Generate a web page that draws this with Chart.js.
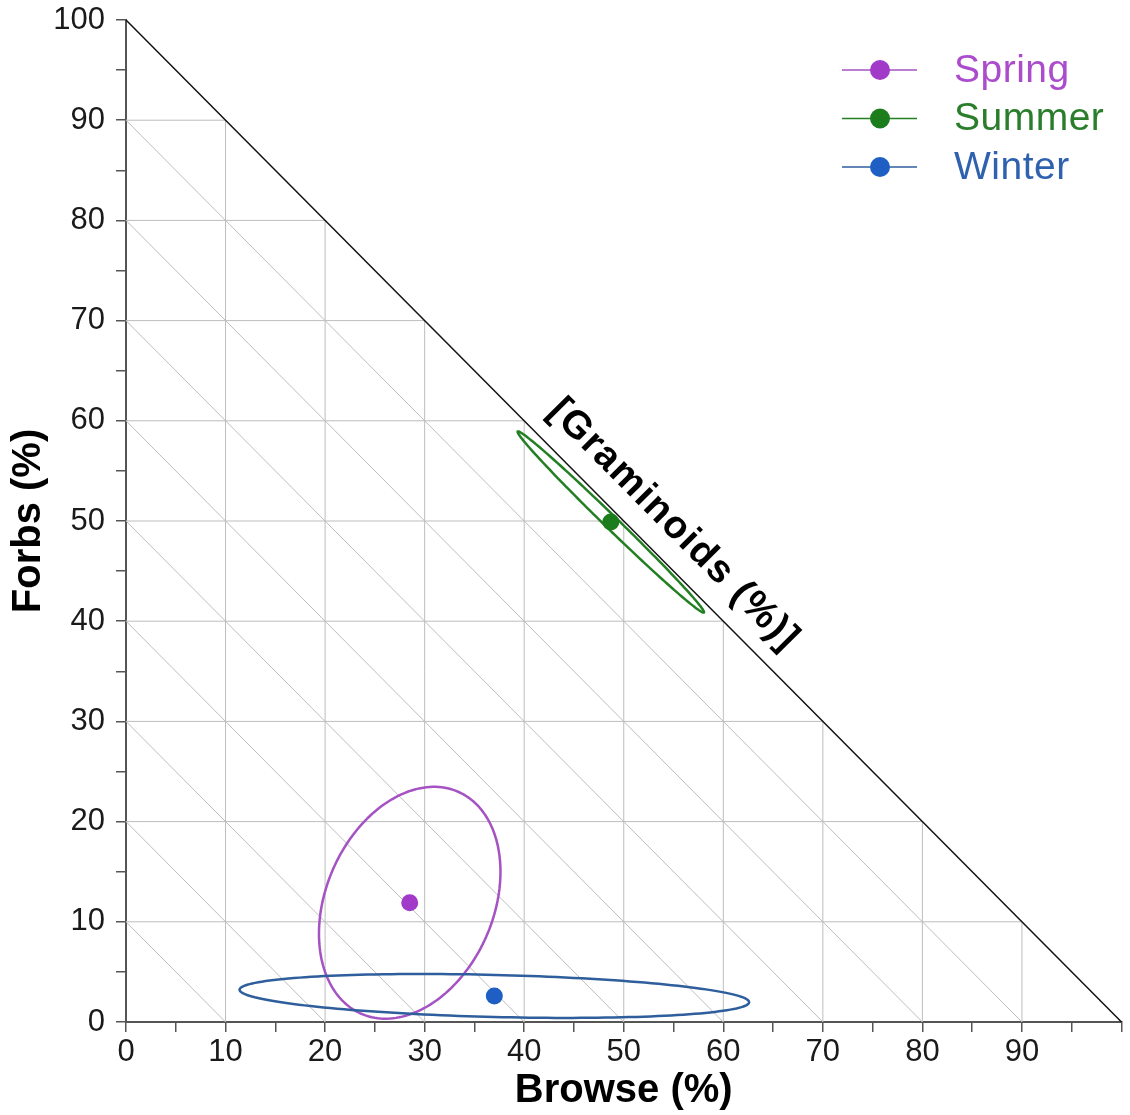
<!DOCTYPE html>
<html>
<head>
<meta charset="utf-8">
<title>Diet composition by season</title>
<script src="https://cdn.jsdelivr.net/npm/chart.js@4.4.1/dist/chart.umd.min.js"></script>
<style>
    html, body { margin: 0; padding: 0; background: #ffffff; }
    #wrap { width: 1130px; height: 1115px; }
</style>
</head>
<body>
<div id="wrap"><canvas id="ternChart" width="1130" height="1115"></canvas></div>
<script>
// Season means (Browse %, Forbs %) and their confidence ellipses
const seasons = ['Spring', 'Summer', 'Winter'];
const browse = [28.5, 48.7, 37.0];
const forbs = [11.9, 49.9, 2.6];
const ellipseMajor = [12.1, 13.0, 25.6];   // semi-axis, % units
const ellipseMinor = [8.4, 0.65, 2.1];
const ellipseAngle = [66, -44, -1.4];      // degrees from the Browse axis

const dotColors = ['#a23ac9', '#1c7d1c', '#1f5fc4'];
const ringColors = ['#a552c2', '#237f23', '#2e5e9c'];
const textColors = ['#ab4ccc', '#2a7d2a', '#2f62ae'];

const gridSteps = [10, 20, 30, 40, 50, 60, 70, 80, 90];
const axisMax = 100;
const hypotenuseLabel = '[Graminoids (%)]';
const labelAt = [55.0, 49.6];

const FONT = "'Liberation Sans', Arial, sans-serif";

// Triangle grid: verticals, horizontals and lines of equal graminoid share
const triangleGrid = {
    id: 'triangleGrid',
    beforeDatasetsDraw(chart) {
        const ctx = chart.ctx;
        const xs = chart.scales.x, ys = chart.scales.y;
        const px = v => xs.getPixelForValue(v);
        const py = v => ys.getPixelForValue(v);
        ctx.save();
        ctx.strokeStyle = '#bdbdbd';
        ctx.lineWidth = 1;
        gridSteps.forEach(v => {
            ctx.beginPath();
            ctx.moveTo(px(v), py(0));
            ctx.lineTo(px(v), py(axisMax - v));
            ctx.moveTo(px(0), py(v));
            ctx.lineTo(px(axisMax - v), py(v));
            ctx.moveTo(px(0), py(v));
            ctx.lineTo(px(v), py(0));
            ctx.stroke();
        });
        ctx.strokeStyle = '#111111';
        ctx.lineWidth = 1.5;
        ctx.beginPath();
        ctx.moveTo(px(0), py(axisMax));
        ctx.lineTo(px(axisMax), py(0));
        ctx.stroke();

        // label along the hypotenuse
        const ang = Math.atan2(py(0) - py(axisMax), px(axisMax) - px(0));
        ctx.translate(px(labelAt[0]), py(labelAt[1]));
        ctx.rotate(ang);
        ctx.font = 'bold 39px ' + FONT;
        ctx.letterSpacing = '1.5px';
        ctx.fillStyle = '#000000';
        ctx.textAlign = 'center';
        ctx.textBaseline = 'middle';
        ctx.fillText(hypotenuseLabel, 0, 0);
        ctx.restore();
    }
};

// Confidence ellipses around each seasonal mean
const seasonEllipses = {
    id: 'seasonEllipses',
    beforeDatasetsDraw(chart) {
        const ctx = chart.ctx;
        const xs = chart.scales.x, ys = chart.scales.y;
        ctx.save();
        ctx.lineWidth = 2.5;
        seasons.forEach((s, i) => {
            const th = ellipseAngle[i] * Math.PI / 180;
            ctx.strokeStyle = ringColors[i];
            ctx.beginPath();
            for (let k = 0; k <= 180; k++) {
                const t = k / 180 * 2 * Math.PI;
                const dx = ellipseMajor[i] * Math.cos(t), dy = ellipseMinor[i] * Math.sin(t);
                const x = browse[i] + dx * Math.cos(th) - dy * Math.sin(th);
                const y = forbs[i] + dx * Math.sin(th) + dy * Math.cos(th);
                const X = xs.getPixelForValue(x), Y = ys.getPixelForValue(y);
                if (k === 0) ctx.moveTo(X, Y); else ctx.lineTo(X, Y);
            }
            ctx.closePath();
            ctx.stroke();
        });
        ctx.restore();
    }
};

// Legend in the upper right corner: line + dot, coloured name
const cornerLegend = {
    id: 'cornerLegend',
    afterDraw(chart) {
        const ctx = chart.ctx;
        ctx.save();
        seasons.forEach((s, i) => {
            const y = 70 + i * 48.5;
            ctx.strokeStyle = ringColors[i];
            ctx.lineWidth = 1.5;
            ctx.beginPath();
            ctx.moveTo(842, y);
            ctx.lineTo(917, y);
            ctx.stroke();
            ctx.fillStyle = dotColors[i];
            ctx.beginPath();
            ctx.arc(880, y, 10, 0, 2 * Math.PI);
            ctx.fill();
            ctx.font = '39px ' + FONT;
            ctx.letterSpacing = '0.5px';
            ctx.fillStyle = textColors[i];
            ctx.textAlign = 'left';
            ctx.textBaseline = 'middle';
            ctx.fillText(s, 954, y + 1);
        });
        ctx.restore();
    }
};

const datasets = seasons.map((s, i) => ({
    label: s,
    data: [{ x: browse[i], y: forbs[i] }],
    backgroundColor: dotColors[i],
    borderWidth: 0,
    pointRadius: 8.5
}));

function axisOptions(titleText, hideTop) {
    return {
        type: 'linear',
        min: 0,
        max: axisMax,
        grid: { drawOnChartArea: false, drawTicks: true, tickLength: 10, color: '#555555', lineWidth: 1.5 },
        border: { display: true, color: '#555555', width: 2 },
        ticks: {
            stepSize: 5,
            autoSkip: false,
            maxRotation: 0,
            color: '#1a1a1a',
            font: { family: FONT, size: 31 },
            callback: function(v) {
                if (v % 10 !== 0) return '';
                if (hideTop && v === axisMax) return '';
                return v;
            }
        },
        title: {
            display: true,
            text: titleText,
            color: '#000000',
            font: { family: FONT, size: 40, weight: 'bold' }
        }
    };
}

const xAxis = axisOptions('Browse (%)', true);
xAxis.ticks.padding = 2;
xAxis.title.padding = { top: 0, bottom: 0 };
xAxis.afterFit = function(scale) {
    scale.height = 93;
    scale.paddingLeft = 0;
    scale.paddingRight = 0;
};

const yAxis = axisOptions('Forbs (%)', false);
yAxis.ticks.padding = 11;
yAxis.title.padding = { top: 5, bottom: 0 };
yAxis.afterFit = function(scale) {
    scale.width = 126;
    scale.paddingTop = 0;
    scale.paddingBottom = 0;
};

new Chart(document.getElementById('ternChart').getContext('2d'), {
    type: 'scatter',
    data: { datasets: datasets },
    options: {
        responsive: false,
        animation: false,
        devicePixelRatio: 1,
        layout: { padding: { top: 20, right: -4, left: 0, bottom: 0 } },
        plugins: {
            legend: { display: false },
            tooltip: { enabled: false }
        },
        scales: { x: xAxis, y: yAxis }
    },
    plugins: [triangleGrid, seasonEllipses, cornerLegend]
});
</script>
</body>
</html>
